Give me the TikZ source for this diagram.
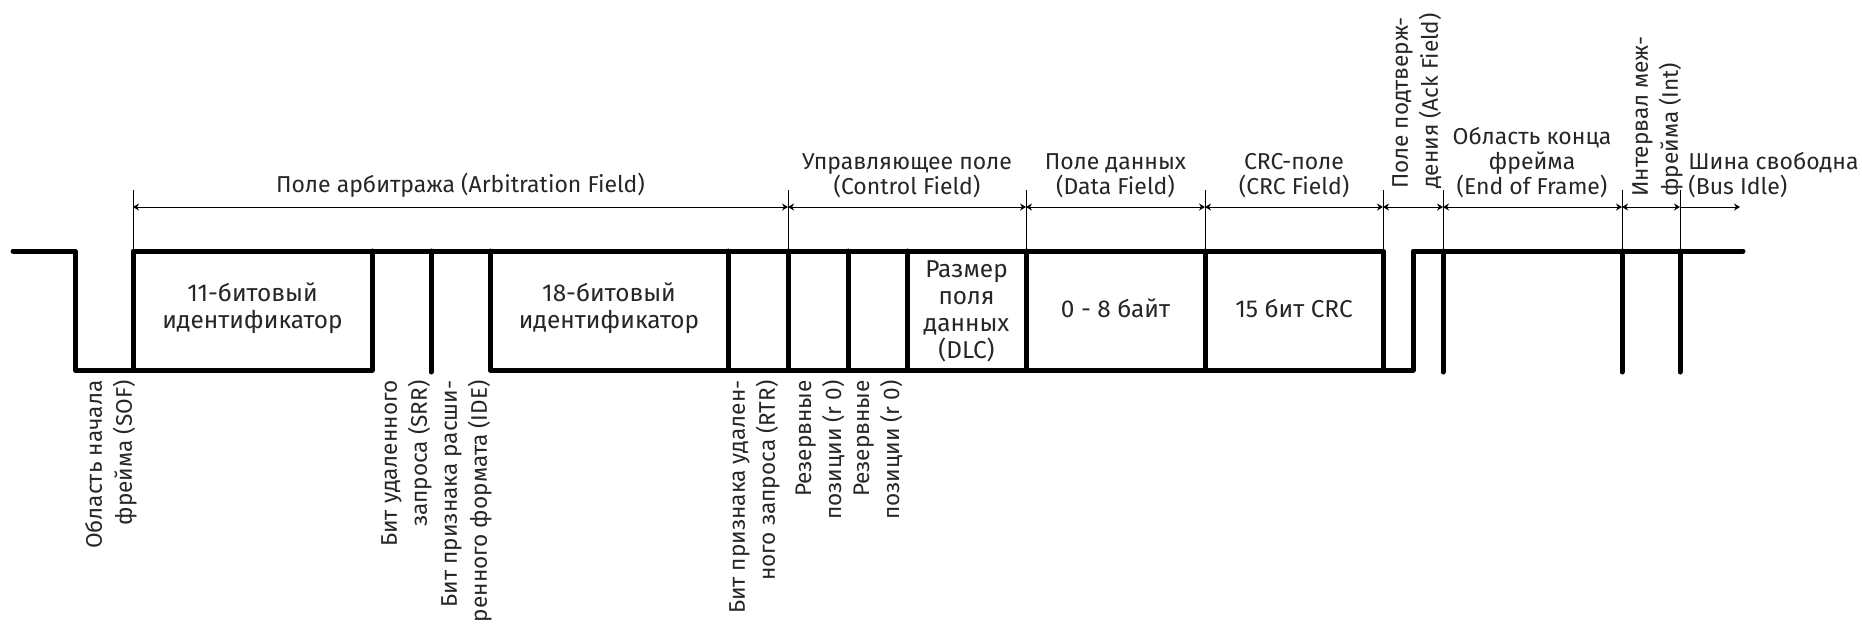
\documentclass[tikz,border=0pt]{standalone}
\usepackage{fontspec}
\setmainfont{Fira Sans}
\usetikzlibrary{arrows.meta}

\tikzset{
  bus/.style={line width=2.5pt, line cap=round, line join=round},
  dim/.style={line width=0.5pt},
  span/.style={dim, {Stealth[length=3pt,width=3.5pt]}-{Stealth[length=3pt,width=3.5pt]}},
  fld/.style={align=center, inner sep=0pt, text=black!85, font=\fontsize{11.5}{12.5}\selectfont},
  boxtxt/.style={fld, font=\fontsize{12.2}{13.5}\selectfont},
  bitlbl/.style={rotate=90, align=right, anchor=south east, inner sep=0pt, text=black!85,
                 font=\fontsize{11.3}{15}\selectfont},
  toplbl/.style={bitlbl, align=left, anchor=north west},
}

\begin{document}
\begin{tikzpicture}[x=0.5pt, y=-0.5pt]
  \useasboundingbox (0,0) rectangle (1862,629);

  % bus levels: recessive at 251, dominant at 370
  \draw[bus] (13,251) -| (75,370) -| (372,251);
  \draw[bus] (133,370) |- (1383,251) |- (1413,370) |- (1743,251);
  \draw[bus] (490,251) |- (1383,370);
  \foreach \x in {728,788,848,907,1026,1205} \draw[bus] (\x,251) -- (\x,370);
  \foreach \x in {431,1443,1622,1680} \draw[bus] (\x,251) -- (\x,372);

  % field boundaries and spans
  \foreach \x [count=\i] in {133,788,1026,1205,1383,1443,1622,1680} {
    \draw[dim] (\x,190) -- (\x,251);
    \coordinate (m\i) at (\x,207);
  }
  \coordinate (m9) at (1740,207);
  \foreach \a/\b in {1/2,2/3,3/4,4/5,5/6,6/7,7/8} \draw[span] (m\a) -- (m\b);
  \draw[dim, -{Stealth[length=3pt,width=3.5pt]}] (m8) -- (m9);

  % field names
  \node[fld, anchor=south] (arb) at (460.5,198) {Поле арбитража (Arbitration Field)};
  \node[fld, anchor=south] (ctl) at (907,198) {Управляющее поле\\(Control Field)};
  \node[fld, anchor=south] (dfld) at (1115.5,198) {Поле данных\\(Data Field)};
  \node[fld, anchor=south] (cfld) at (1294,198) {CRC-поле\\(CRC Field)};
  \node[fld, anchor=south] (eof) at (1532,198) {Область конца\\фрейма\\(End of Frame)};
  \node[fld, anchor=south west, align=left] (idle) at (1688,198) {Шина свободна\\(Bus Idle)};
  \node[toplbl] (ack) at (1392,189) {Поле подтверж-\\дения (Ack Field)};
  \node[toplbl] (ifs) at (1632,197) {Интервал меж-\\фрейма (Int)};

  % contents of the frame
  \node[boxtxt] (id11) at (252.5,308) {11-битовый\\идентификатор};
  \node[boxtxt] (id18) at (609,308) {18-битовый\\идентификатор};
  \node[boxtxt] (dlc) at (966.5,311) {Размер\\поля\\данных\\(DLC)};
  \node[boxtxt] (data) at (1115.5,308) {0 - 8 байт};
  \node[boxtxt] (crc) at (1294,308) {15 бит CRC};

  % single bits below the bus
  \node[bitlbl] (sof) at (137,380) {Область начала\\фрейма (SOF)};
  \node[bitlbl] (srr) at (432,380) {Бит удаленного\\запроса (SRR)};
  \node[bitlbl] (ide) at (492,380) {Бит признака расши-\\ренного формата (IDE)};
  \node[bitlbl] (rtr) at (780,380) {Бит признака удален-\\ного запроса (RTR)};
  \node[bitlbl] (rzA) at (845,380) {Резервные\\позиции (r 0)};
  \node[bitlbl] (rzB) at (903,380) {Резервные\\позиции (r 0)};
\end{tikzpicture}
\end{document}
